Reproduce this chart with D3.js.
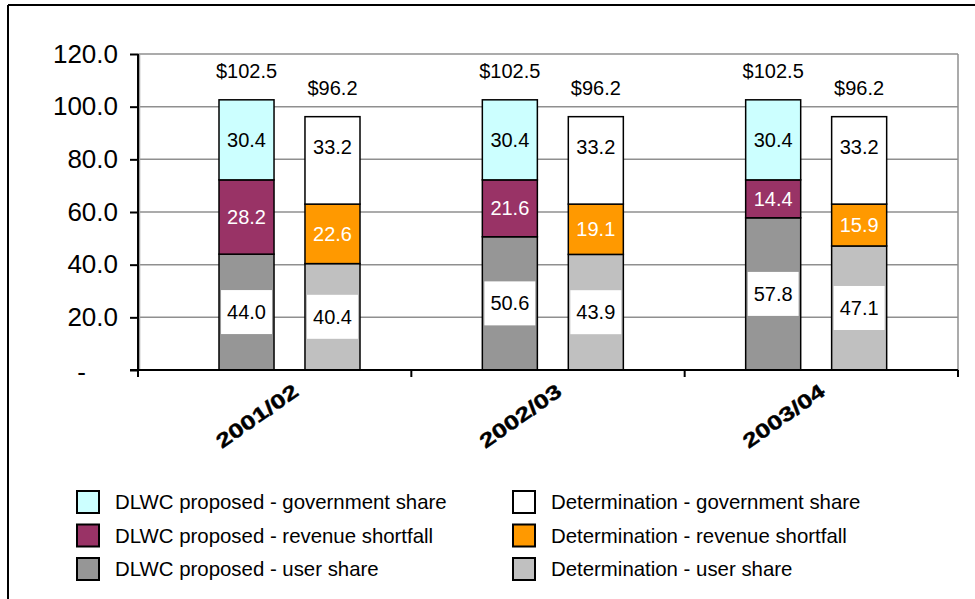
<!DOCTYPE html>
<html>
<head>
<meta charset="utf-8">
<script src="https://cdn.jsdelivr.net/npm/d3@7"></script>
<style>
  html, body { margin: 0; padding: 0; background: #fff; }
  svg { display: block; font-family: "Liberation Sans", Arial, sans-serif; }
</style>
</head>
<body>
<svg id="chart" width="975" height="599"></svg>
<script>
// ---- data ----
const years = ["2001/02", "2002/03", "2003/04"];
const dlwcUser      = [44.0, 50.6, 57.8];
const dlwcShortfall = [28.2, 21.6, 14.4];
const dlwcGov       = [30.4, 30.4, 30.4];
const detUser       = [40.4, 43.9, 47.1];
const detShortfall  = [22.6, 19.1, 15.9];
const detGov        = [33.2, 33.2, 33.2];
const dlwcTotals    = [102.5, 102.5, 102.5];
const detTotals     = [96.2, 96.2, 96.2];
const yTicks = [0, 20, 40, 60, 80, 100, 120];

const seriesNames = [
  "DLWC proposed - government share",
  "DLWC proposed - revenue shortfall",
  "DLWC proposed - user share",
  "Determination - government share",
  "Determination - revenue shortfall",
  "Determination - user share"
];

// ---- style ----
const colors = {
  dlwcGov: "#CCFFFF", dlwcShortfall: "#993366", dlwcUser: "#969696",
  detGov: "#FFFFFF", detShortfall: "#FF9900", detUser: "#C0C0C0"
};

const svg = d3.select("#chart");

// outer frame
svg.append("line").attr("x1", 8).attr("y1", 5).attr("x2", 975).attr("y2", 5)
  .attr("stroke", "#000").attr("stroke-width", 2);
svg.append("line").attr("x1", 8).attr("y1", 5).attr("x2", 8).attr("y2", 599)
  .attr("stroke", "#000").attr("stroke-width", 2);

const plot = { left: 138, right: 958, top: 54, bottom: 370 };

const y = d3.scaleLinear().domain([0, 120]).range([plot.bottom, plot.top]);
const xCat = d3.scaleBand().domain(years).range([plot.left, plot.right]);
const xGroup = d3.scaleBand().domain(years).range([175, 965]);
const xSeries = d3.scaleBand().domain(["dlwc", "det"]).range([44, 185]).paddingInner(0.36);

// gridlines
svg.append("g").selectAll("line").data(yTicks.filter(d => d > 0)).join("line")
  .attr("x1", plot.left).attr("x2", plot.right)
  .attr("y1", d => y(d)).attr("y2", d => y(d))
  .attr("stroke", "#8f8f8f").attr("stroke-width", 1.5);
// right border
svg.append("line").attr("x1", plot.right).attr("x2", plot.right)
  .attr("y1", plot.top).attr("y2", plot.bottom)
  .attr("stroke", "#8f8f8f").attr("stroke-width", 1.5);
svg.append("line").attr("x1", plot.left + 1.5).attr("x2", plot.left + 1.5)
  .attr("y1", plot.top).attr("y2", plot.bottom)
  .attr("stroke", "#a0a0a0").attr("stroke-width", 1.5);

// stacked data
const groups = [];
years.forEach((yr, i) => {
  const stacks = [
    { key: "dlwc", parts: [
      { s: "dlwcUser", v: dlwcUser[i] },
      { s: "dlwcShortfall", v: dlwcShortfall[i] },
      { s: "dlwcGov", v: dlwcGov[i] }], total: dlwcTotals[i] },
    { key: "det", parts: [
      { s: "detUser", v: detUser[i] },
      { s: "detShortfall", v: detShortfall[i] },
      { s: "detGov", v: detGov[i] }], total: detTotals[i] }
  ];
  stacks.forEach(st => {
    let acc = 0;
    st.parts.forEach(p => { p.y0 = acc; acc += p.v; p.y1 = acc; });
    st.year = yr;
    groups.push(st);
  });
});

const barW = xSeries.bandwidth();
const gBars = svg.append("g");
groups.forEach(st => {
  const x0 = xGroup(st.year) + xSeries(st.key);
  st.parts.forEach(p => {
    gBars.append("rect")
      .attr("x", x0).attr("width", barW)
      .attr("y", y(p.y1)).attr("height", y(p.y0) - y(p.y1))
      .attr("fill", colors[p.s]).attr("stroke", "#000").attr("stroke-width", 1.5);
  });
});

// segment labels
const gLab = svg.append("g").attr("font-size", 20);
groups.forEach(st => {
  const cx = xGroup(st.year) + xSeries(st.key) + barW / 2;
  st.parts.forEach(p => {
    let cy = y((p.y0 + p.y1) / 2);
    if (p.s === "detGov") cy -= 13;
    const isShort = p.s.endsWith("Shortfall");
    const isUser = p.s.endsWith("User");
    const txt = p.v.toFixed(1);
    if (isUser) {
      const t = gLab.append("text").text(txt).attr("visibility", "hidden");
      const w = t.node().getComputedTextLength();
      t.remove();
      gLab.append("rect")
        .attr("x", cx - w / 2 - 6).attr("width", w + 12)
        .attr("y", cy - 22).attr("height", 44)
        .attr("fill", "#fff");
    }
    gLab.append("text")
      .attr("x", cx).attr("y", cy)
      .attr("text-anchor", "middle").attr("dominant-baseline", "central")
      .attr("fill", isShort ? "#fff" : "#000")
      .text(txt);
  });
  gLab.append("text")
    .attr("x", cx).attr("y", y(st.total) - 22)
    .attr("text-anchor", "middle")
    .attr("fill", "#000")
    .text("$" + st.total.toFixed(1));
});

// y axis
const yAxis = d3.axisLeft(y).tickValues(yTicks)
  .tickFormat(d => d === 0 ? "-" : d.toFixed(1))
  .tickSize(8).tickPadding(12);
const gy = svg.append("g").attr("transform", `translate(${plot.left},0)`).call(yAxis);
gy.select(".domain").attr("stroke", "#000").attr("stroke-width", 2)
  .attr("d", `M0,${plot.top}V${plot.bottom}`);
gy.selectAll(".tick line").attr("stroke", "#000").attr("stroke-width", 2);
gy.selectAll(".tick text").attr("font-size", 26).attr("fill", "#000")
  .attr("font-family", "Liberation Sans, Arial, sans-serif");
gy.selectAll(".tick").filter(d => d === 0).select("text").attr("dx", -32).attr("dy", "0.4em");

// x axis
const gx = svg.append("g");
gx.append("line").attr("x1", plot.left - 8).attr("x2", plot.right)
  .attr("y1", plot.bottom).attr("y2", plot.bottom)
  .attr("stroke", "#000").attr("stroke-width", 2);
const bounds = years.map(d => xCat(d)).concat([xCat(years[years.length - 1]) + xCat.bandwidth()]);
gx.selectAll("line.tk").data(bounds).join("line").attr("class", "tk")
  .attr("x1", d => d).attr("x2", d => d)
  .attr("y1", plot.bottom).attr("y2", plot.bottom + 7)
  .attr("stroke", "#000").attr("stroke-width", 2);
gx.selectAll("text").data(years).join("text")
  .attr("transform", d => `translate(${xGroup(d) + 82},416) rotate(-35)`)
  .attr("text-anchor", "middle").attr("dominant-baseline", "central")
  .attr("font-size", 20).attr("font-weight", "bold")
  .attr("textLength", 95).attr("lengthAdjust", "spacingAndGlyphs")
  .attr("fill", "#000").attr("stroke", "#000").attr("stroke-width", 0.4)
  .text(d => d);

// legend
const legendItems = [
  { name: seriesNames[0], c: colors.dlwcGov, col: 0, row: 0 },
  { name: seriesNames[1], c: colors.dlwcShortfall, col: 0, row: 1 },
  { name: seriesNames[2], c: colors.dlwcUser, col: 0, row: 2 },
  { name: seriesNames[3], c: colors.detGov, col: 1, row: 0 },
  { name: seriesNames[4], c: colors.detShortfall, col: 1, row: 1 },
  { name: seriesNames[5], c: colors.detUser, col: 1, row: 2 }
];
const legX = [77, 513], legY0 = 491, legDy = 33.5;
const gLeg = svg.append("g");
legendItems.forEach(it => {
  const lx = legX[it.col], ly = legY0 + it.row * legDy;
  gLeg.append("rect").attr("x", lx).attr("y", ly).attr("width", 22).attr("height", 22)
    .attr("fill", it.c).attr("stroke", "#000").attr("stroke-width", 2);
  gLeg.append("text").attr("x", lx + 38).attr("y", ly + 11)
    .attr("dominant-baseline", "central").attr("font-size", 20.4).attr("fill", "#000")
    .text(it.name);
});
</script>
</body>
</html>
